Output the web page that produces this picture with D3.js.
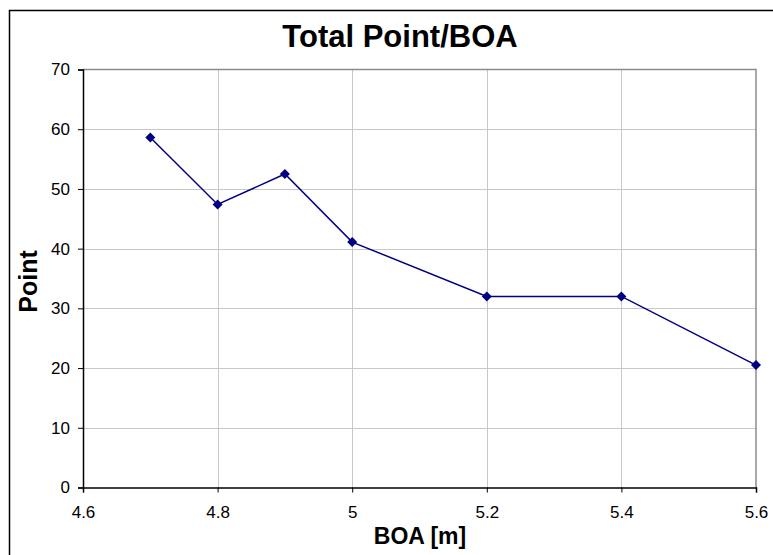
<!DOCTYPE html>
<html>
<head>
<meta charset="utf-8">
<script src="https://cdn.jsdelivr.net/npm/d3@7"></script>
<style>
  html, body { margin: 0; padding: 0; background: #fff; }
  svg { display: block; font-family: "Liberation Sans", Arial, sans-serif; }
</style>
</head>
<body>
<svg id="chart" width="773" height="555"></svg>
<script>
// BOA length [m] and total points
const boa = [4.7, 4.8, 4.9, 5.0, 5.2, 5.4, 5.6];
const points = [58.6, 47.4, 52.5, 41.1, 32.0, 32.0, 20.5];
const xTicks = [4.6, 4.8, 5.0, 5.2, 5.4, 5.6];
const yTicks = [0, 10, 20, 30, 40, 50, 60, 70];

const svg = d3.select("#chart");
const plot = { left: 83, right: 756, top: 69.5, bottom: 487.5 };

const x = d3.scaleLinear().domain([4.6, 5.6]).range([plot.left, plot.right]);
const y = d3.scaleLinear().domain([0, 70]).range([plot.bottom, plot.top]);

// outer chart frame
svg.append("rect")
  .attr("x", 9.5).attr("y", 10.5).attr("width", 800).attr("height", 600)
  .attr("fill", "#fff").attr("stroke", "#000").attr("stroke-width", 1.5);

// gridlines
svg.append("g").selectAll("line").data(yTicks.slice(1, -1)).join("line")
  .attr("x1", plot.left).attr("x2", plot.right)
  .attr("y1", d => Math.round(y(d)) + 0.5).attr("y2", d => Math.round(y(d)) + 0.5)
  .attr("stroke", "#c8c8c8").attr("stroke-width", 1);
svg.append("g").selectAll("line").data(xTicks.slice(1, -1)).join("line")
  .attr("y1", plot.top).attr("y2", plot.bottom)
  .attr("x1", d => Math.round(x(d)) + 0.5).attr("x2", d => Math.round(x(d)) + 0.5)
  .attr("stroke", "#c8c8c8").attr("stroke-width", 1);

// plot area top/right border
svg.append("path")
  .attr("d", `M${plot.left},${plot.top}H${plot.right}V${plot.bottom}`)
  .attr("fill", "none").attr("stroke", "#8c8c8c").attr("stroke-width", 1.5);

// axes
const xAxis = d3.axisBottom(x).tickValues(xTicks).tickSize(5).tickPadding(13)
  .tickFormat(d3.format("~g"));
const yAxis = d3.axisLeft(y).tickValues(yTicks).tickSize(5).tickPadding(8);

const gx = svg.append("g").attr("transform", `translate(0,${plot.bottom})`).call(xAxis);
const gy = svg.append("g").attr("transform", `translate(${plot.left},0)`).call(yAxis);
[gx, gy].forEach(g => {
  g.select(".domain").attr("stroke", "#000").attr("stroke-width", 1.5);
  g.selectAll(".tick line").attr("stroke", "#000").attr("stroke-width", 1);
  g.selectAll(".tick text").attr("fill", "#000")
    .style("font-size", "17px").style("font-family", "Liberation Sans, Arial, sans-serif");
});

// series line and markers
const line = d3.line().x((d, i) => x(boa[i])).y(d => y(d));
svg.append("path").datum(points)
  .attr("d", line).attr("fill", "none")
  .attr("stroke", "#000080").attr("stroke-width", 1.5);
svg.append("g").selectAll("path").data(points).join("path")
  .attr("transform", (d, i) => `translate(${x(boa[i])},${y(d)})`)
  .attr("d", "M0,-5L5,0L0,5L-5,0Z")
  .attr("fill", "#000080");

// titles
svg.append("text").attr("x", 400).attr("y", 47)
  .attr("text-anchor", "middle").style("font-size", "31px").style("font-weight", "bold")
  .text("Total Point/BOA");
svg.append("text").attr("x", 420).attr("y", 544)
  .attr("text-anchor", "middle").style("font-size", "23px").style("font-weight", "bold")
  .text("BOA [m]");
svg.append("text")
  .attr("transform", `translate(37,${(plot.top + plot.bottom) / 2 + 3}) rotate(-90)`)
  .attr("text-anchor", "middle").style("font-size", "25px").style("font-weight", "bold")
  .text("Point");
</script>
</body>
</html>
